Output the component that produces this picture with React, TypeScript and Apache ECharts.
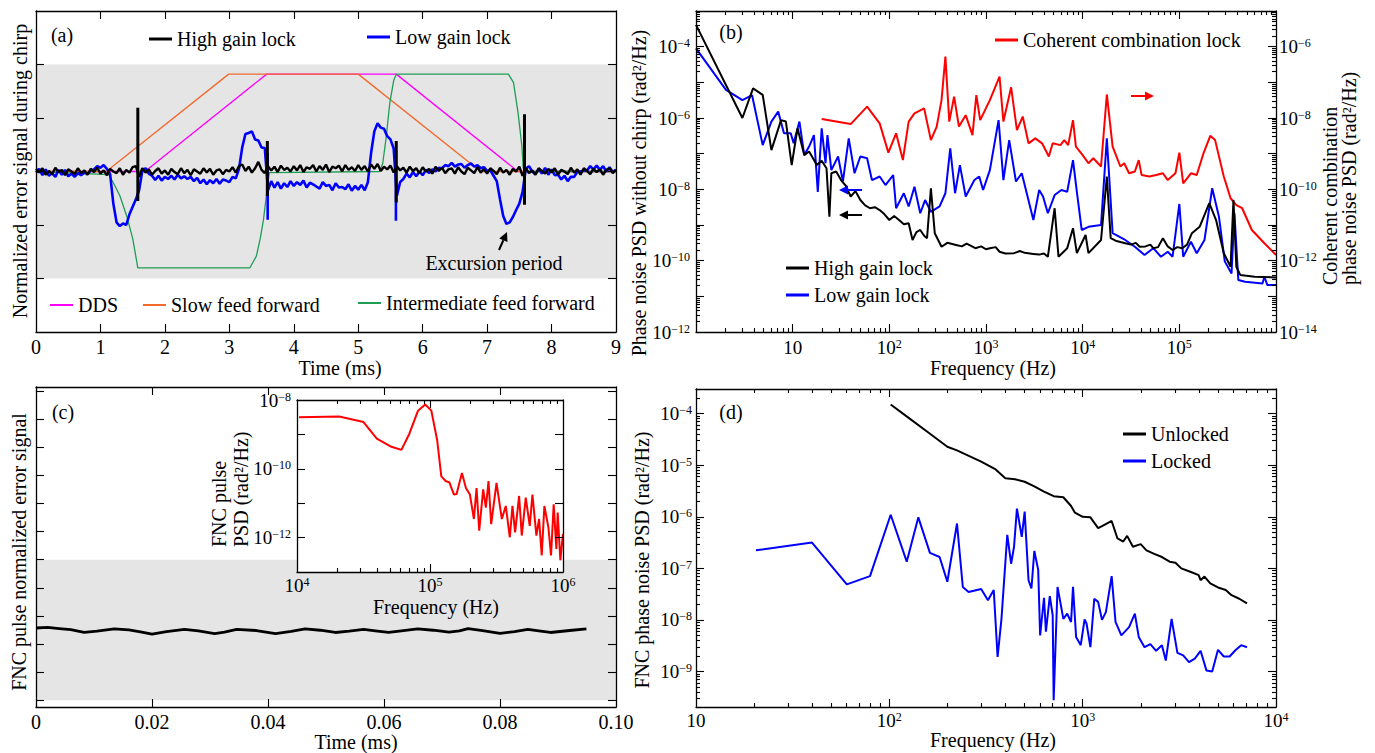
import React, { useEffect, useRef } from 'react';
import * as echarts from 'echarts';

const FONT = "'Liberation Serif', 'Times New Roman', serif";

// ---------- Panel (a): error signal during chirp (time in ms, sampled every 0.05 ms) ----------
const A_STEP = 0.05;
const aHighGain = [
  0.05, -0.02, 0.06, -0.06, 0.01, -0.05, 0.07, -0.01, 0.03, -0.07, 0.04, 0.0, -0.05, 0.06, -0.03, 0.02, -0.06, 0.05, -0.01, 0.07,
  -0.04, 0.02, -0.07, 0.05, 0.0, -0.03, 0.06, -0.06, 0.03, -0.02, 0.08, 0.1, -0.1, 0.06, -0.02, 0.04, -0.06, 0.01, 0.06, -0.04,
  0.02, -0.06, 0.05, -0.01, -0.05, 0.06, -0.03, 0.03, -0.07, 0.04, 0.0, -0.04, 0.06, -0.02, 0.05, -0.06, 0.02, 0.04, -0.05, 0.03,
  0.0, 0.08, -0.02, 0.1, 0.13, 0.01, 0.09, -0.02, 0.06, 0.18, 0.03, -0.03, 0.1, 0.02, 0.09, -0.01, 0.11, 0.03, 0.07, 0.0,
  0.1, 0.02, 0.12, -0.01, 0.08, 0.05, 0.12, 0.0, 0.1, 0.03, 0.13, -0.01, 0.09, 0.06, 0.11, 0.0, 0.12, 0.03, 0.08, 0.01,
  0.12, 0.03, 0.1, 0.0, 0.13, 0.05, 0.14, 0.01, 0.09, 0.04, 0.11, -0.02, 0.1, 0.02, 0.07, -0.02, 0.09, 0.01, 0.06, -0.03,
  0.08, 0.0, 0.05, -0.04, 0.09, 0.01, 0.07, -0.03, 0.04, 0.06, -0.04, 0.08, 0.0, -0.05, 0.07, 0.02, -0.03, 0.08, -0.02, 0.04,
  -0.04, 0.06, 0.01, -0.05, 0.07, -0.02, 0.03, -0.06, 0.05, 0.0, 0.09, -0.08, 0.06, -0.03, 0.02, -0.06, 0.06, 0.01, -0.04, 0.05,
  -0.02, 0.06, -0.06, 0.03, 0.0, -0.05, 0.07, -0.02, 0.04, -0.06, 0.06, 0.01, -0.05, 0.05, -0.01, 0.04, -0.06, 0.03, 0.06, -0.03,
  0.03,
];
const aLowGain = [
  -0.02, 0.05, -0.07, 0.04, -0.08, -0.03, -0.1, 0.03, -0.06, 0.03, -0.09, -0.04, -0.1, -0.03, -0.07, -0.02, -0.05, 0.02, 0.04, 0.1,
  0.07, 0.12, 0.05, -0.05, -0.6, -0.95, -1.02, -0.97, -1.0, -0.8, -0.66, -0.52, -0.35, 0.02, 0.06, -0.04, -0.08, -0.16, -0.08, -0.17,
  -0.1, -0.14, -0.08, -0.15, -0.06, -0.13, -0.09, -0.14, -0.1, -0.18, -0.12, -0.22, -0.15, -0.24, -0.16, -0.22, -0.14, -0.23, -0.15, -0.17,
  -0.2, -0.1, -0.13, 0.05, 0.45, 0.7, 0.72, 0.75, 0.6, 0.58, 0.45, 0.44, -0.35, -0.18, -0.3, -0.2, -0.32, -0.22, -0.29, -0.18,
  -0.27, -0.2, -0.25, -0.17, -0.3, -0.21, -0.24, -0.28, -0.32, -0.2, -0.27, -0.25, -0.35, -0.22, -0.3, -0.29, -0.33, -0.24, -0.36, -0.27,
  -0.34, -0.25, -0.35, -0.2, 0.35, 0.75, 0.9, 0.82, 0.8, 0.66, 0.6, 0.43, -0.45, -0.2, -0.14, -0.04, -0.11, -0.01, -0.09, 0.0,
  -0.07, 0.03, -0.03, 0.04, 0.0, 0.07, 0.06, 0.12, 0.1, 0.16, 0.09, 0.13, 0.14, 0.07, 0.12, 0.15, 0.09, 0.12, 0.06, 0.08,
  0.01, 0.02, -0.08, -0.18, -0.52, -0.83, -0.98, -0.95, -0.85, -0.72, -0.6, -0.38, 0.05, 0.1, 0.0, -0.05, 0.05, -0.04, 0.07, -0.06,
  0.04, -0.07, -0.06, -0.15, -0.08, -0.18, -0.1, -0.1, -0.01, 0.0, 0.02, 0.02, 0.1, 0.04, 0.11, 0.03, 0.1, 0.0, 0.08, -0.01,
  0.03,
];
// [time, low, high] of the vertical spikes
const aHighSpikes = [[1.58, -0.55, 1.19], [3.59, -0.46, 0.57], [5.59, -0.58, 0.57], [7.58, -0.62, 1.07]];
const aLowSpikes = [[3.595, -0.9, 0.35], [5.585, -0.92, 0.4]];
const aDDS = [[0, 0], [1.69, 0], [3.58, 1.82], [5.59, 1.82], [7.48, 0], [9, 0]];
const aSlowFF = [[0, 0], [1.09, 0], [2.99, 1.82], [5.0, 1.82], [6.9, 0], [9, 0]];
const aInterFF = [
  [0, 0], [1.13, -0.06], [1.2, -0.21], [1.3, -0.45], [1.41, -0.84], [1.5, -1.25], [1.58, -1.8], [3.32, -1.8],
  [3.42, -1.58], [3.48, -1.25], [3.53, -0.9], [3.58, -0.4], [3.62, -0.02], [5.33, 0], [5.38, 0.15], [5.43, 0.6],
  [5.49, 1.28], [5.55, 1.7], [5.59, 1.82], [7.33, 1.82], [7.41, 1.66], [7.48, 1.1], [7.54, 0.47], [7.56, 0.07], [7.58, 0], [9, 0],
];

// ---------- Panel (b): [log10 f (Hz), log10 PSD] ----------
const bHighGain = [
  [0, -3.39], [0.48, -6.0], [0.59, -5.17], [0.69, -5.35], [0.78, -6.9], [0.88, -6.06], [0.93, -6.1], [0.99, -7.32], [1.05, -6.29],
  [1.12, -7.04], [1.17, -6.94], [1.25, -7.32], [1.3, -7.2], [1.35, -7.41], [1.38, -8.77], [1.4, -7.55], [1.45, -7.5], [1.5, -7.74],
  [1.55, -7.9], [1.6, -8.2], [1.65, -8.05], [1.7, -8.3], [1.75, -8.45], [1.8, -8.53], [1.85, -8.5], [1.9, -8.58], [1.95, -8.7],
  [2.0, -8.86], [2.05, -8.75], [2.1, -8.86], [2.15, -8.98], [2.2, -8.95], [2.24, -9.42], [2.28, -9.2], [2.32, -9.14], [2.36, -9.3],
  [2.39, -9.37], [2.43, -7.97], [2.47, -9.23], [2.54, -9.61], [2.6, -9.5], [2.69, -9.56], [2.75, -9.6], [2.8, -9.52], [2.89, -9.65],
  [2.95, -9.6], [3.0, -9.68], [3.04, -9.65], [3.1, -9.62], [3.14, -9.75], [3.2, -9.8], [3.29, -9.79], [3.35, -9.73], [3.4, -9.78],
  [3.49, -9.81], [3.55, -9.83], [3.6, -9.8], [3.64, -9.89], [3.71, -8.53], [3.75, -9.89], [3.84, -9.65], [3.9, -9.09], [3.94, -9.79],
  [4.03, -9.28], [4.06, -9.79], [4.19, -9.42], [4.25, -7.64], [4.29, -9.37], [4.35, -9.45], [4.44, -9.51], [4.5, -9.55], [4.55, -9.5],
  [4.59, -9.61], [4.65, -9.6], [4.7, -9.55], [4.73, -9.65], [4.78, -9.62], [4.83, -9.37], [4.88, -9.6], [4.93, -9.7], [4.98, -9.62],
  [5.03, -9.65], [5.08, -9.55], [5.13, -9.23], [5.21, -9.05], [5.31, -8.39], [5.38, -8.86], [5.46, -9.79], [5.53, -10.17], [5.56, -8.3],
  [5.59, -10.17], [5.63, -10.4], [5.78, -10.45], [6.0, -10.47],
];
const bLowGain = [
  [0, -4.05], [0.31, -5.21], [0.48, -5.5], [0.58, -5.36], [0.69, -6.76], [0.78, -6.1], [0.85, -5.82], [0.91, -6.43], [0.98, -6.43],
  [1.01, -6.71], [1.07, -6.1], [1.12, -7.04], [1.17, -6.8], [1.22, -6.48], [1.26, -8.07], [1.3, -6.29], [1.34, -7.27], [1.36, -6.48],
  [1.4, -7.46], [1.47, -7.08], [1.52, -7.78], [1.58, -6.57], [1.64, -7.55], [1.7, -7.08], [1.77, -7.13], [1.82, -7.74], [1.9, -7.64],
  [1.96, -7.88], [2.04, -7.6], [2.07, -8.53], [2.15, -8.11], [2.2, -8.48], [2.26, -7.93], [2.32, -8.67], [2.37, -8.3], [2.43, -8.63],
  [2.52, -8.48], [2.58, -8.11], [2.63, -6.85], [2.68, -8.11], [2.73, -7.32], [2.79, -8.2], [2.88, -7.74], [2.93, -7.64], [2.97, -8.02],
  [3.04, -7.46], [3.13, -6.06], [3.18, -7.74], [3.24, -6.62], [3.31, -7.78], [3.37, -7.55], [3.43, -8.2], [3.49, -8.86], [3.55, -8.02],
  [3.59, -8.2], [3.64, -8.67], [3.71, -8.16], [3.78, -8.02], [3.84, -8.07], [3.9, -7.18], [3.94, -8.07], [3.99, -9.14], [4.06, -9.05],
  [4.19, -9.0], [4.25, -6.57], [4.31, -9.23], [4.44, -9.42], [4.54, -9.61], [4.64, -9.84], [4.73, -9.65], [4.81, -9.89], [4.88, -9.75],
  [4.93, -9.89], [5.0, -8.41], [5.04, -9.89], [5.12, -9.47], [5.18, -9.79], [5.26, -9.42], [5.34, -7.97], [5.41, -8.77], [5.47, -10.02],
  [5.54, -10.36], [5.57, -8.67], [5.61, -10.54], [5.68, -10.59], [5.86, -10.64], [5.88, -10.45], [5.91, -10.68], [6.0, -10.68],
];
// right-hand axis
const bCoherent = [
  [1.3, -8.03], [1.6, -8.17], [1.77, -7.68], [1.9, -8.15], [1.99, -8.97], [2.07, -8.43], [2.14, -9.18], [2.2, -8.1], [2.26, -7.87],
  [2.36, -7.73], [2.43, -8.62], [2.49, -8.24], [2.54, -7.5], [2.58, -6.28], [2.62, -8.1], [2.67, -7.4], [2.72, -8.24], [2.79, -7.92],
  [2.86, -8.48], [2.9, -7.36], [2.94, -8.06], [3.04, -7.5], [3.14, -6.84], [3.18, -8.1], [3.26, -7.14], [3.32, -8.34], [3.38, -7.96],
  [3.44, -8.71], [3.51, -8.57], [3.58, -8.71], [3.65, -9.08], [3.69, -8.71], [3.77, -8.76], [3.81, -8.62], [3.85, -8.76], [3.9, -8.06],
  [3.93, -8.8], [4.0, -9.04], [4.06, -9.27], [4.11, -9.13], [4.19, -9.36], [4.25, -7.34], [4.31, -8.8], [4.39, -9.36], [4.43, -9.27],
  [4.48, -9.55], [4.54, -9.5], [4.58, -9.18], [4.61, -9.6], [4.69, -9.64], [4.76, -9.6], [4.83, -9.55], [4.88, -9.74], [4.96, -9.55],
  [5.0, -8.97], [5.04, -9.83], [5.12, -9.55], [5.18, -9.6], [5.25, -8.99], [5.32, -8.5], [5.37, -8.62], [5.46, -9.64], [5.53, -10.25],
  [5.59, -10.44], [5.65, -10.53], [5.75, -11.14], [5.88, -11.51], [6.0, -11.84],
];

// ---------- Panel (c): FNC pulse error signal [time ms, value] ----------
const cError = [
  [0, 2.57], [0.002, 2.59], [0.004, 2.55], [0.006, 2.51], [0.0083, 2.41], [0.0105, 2.46], [0.0135, 2.54], [0.016, 2.5], [0.018, 2.43],
  [0.02, 2.35], [0.0225, 2.44], [0.0256, 2.52], [0.028, 2.47], [0.0308, 2.37], [0.0325, 2.42], [0.0346, 2.52], [0.038, 2.48],
  [0.0413, 2.37], [0.044, 2.45], [0.0464, 2.54], [0.049, 2.49], [0.0516, 2.41], [0.054, 2.46], [0.0565, 2.52], [0.0585, 2.47],
  [0.0608, 2.41], [0.063, 2.47], [0.0658, 2.54], [0.0685, 2.49], [0.0712, 2.42], [0.073, 2.47], [0.0745, 2.55], [0.077, 2.48],
  [0.08, 2.38], [0.0825, 2.44], [0.0848, 2.52], [0.087, 2.46], [0.0887, 2.41], [0.092, 2.48], [0.0949, 2.54],
];
// inset: [log10 f, log10 PSD]
const insetPsd = [
  [4.015, -8.5], [4.317, -8.48], [4.5, -8.64], [4.6, -9.12], [4.71, -9.36], [4.785, -9.45], [4.845, -8.98], [4.91, -8.31],
  [4.964, -8.13], [5.01, -8.31], [5.054, -9.17], [5.085, -10.22], [5.12, -10.36], [5.145, -10.39], [5.18, -10.75], [5.2, -10.73],
  [5.24, -10.12], [5.27, -10.56], [5.3, -10.75], [5.33, -11.46], [5.35, -10.56], [5.37, -11.8], [5.4, -10.6], [5.42, -11.13],
  [5.44, -10.36], [5.46, -11.61], [5.5, -10.41], [5.54, -11.46], [5.57, -11.08], [5.6, -11.99], [5.62, -11.08], [5.64, -11.85],
  [5.67, -10.79], [5.69, -11.94], [5.72, -10.84], [5.75, -11.66], [5.77, -10.75], [5.8, -11.94], [5.82, -11.46], [5.84, -12.52],
  [5.86, -11.08], [5.89, -11.7], [5.91, -12.52], [5.93, -11.03], [5.95, -12.33], [5.96, -11.27], [5.98, -12.66], [6.0, -11.89],
];

// ---------- Panel (d): [log10 f, log10 PSD] ----------
const dUnlocked = [
  [2.007, -3.82], [2.1, -4.08], [2.2, -4.36], [2.3, -4.64], [2.35, -4.71], [2.475, -4.93], [2.55, -5.08], [2.6, -5.25], [2.65, -5.27],
  [2.7, -5.32], [2.75, -5.41], [2.8, -5.51], [2.85, -5.6], [2.9, -5.62], [2.94, -5.79], [2.96, -5.92], [3.0, -6.0], [3.04, -6.01],
  [3.08, -6.22], [3.11, -6.16], [3.15, -6.08], [3.18, -6.42], [3.21, -6.48], [3.23, -6.37], [3.26, -6.58], [3.3, -6.53], [3.33, -6.65],
  [3.37, -6.72], [3.41, -6.78], [3.45, -6.87], [3.48, -6.89], [3.51, -7.0], [3.56, -7.07], [3.6, -7.13], [3.61, -7.23], [3.63, -7.16],
  [3.66, -7.29], [3.7, -7.37], [3.74, -7.42], [3.77, -7.52], [3.81, -7.59], [3.85, -7.68],
];
const dLocked = [
  [1.31, -6.65], [1.6, -6.5], [1.78, -7.31], [1.9, -7.15], [2.007, -5.96], [2.09, -6.87], [2.15, -6.01], [2.21, -6.7], [2.26, -6.78],
  [2.3, -7.26], [2.35, -6.13], [2.38, -7.36], [2.41, -7.46], [2.475, -7.4], [2.51, -7.62], [2.54, -7.42], [2.56, -8.72], [2.58, -7.98],
  [2.61, -6.35], [2.63, -6.91], [2.645, -6.58], [2.66, -5.84], [2.685, -6.39], [2.7, -5.9], [2.72, -7.23], [2.735, -7.39], [2.75, -6.66],
  [2.77, -7.03], [2.78, -8.3], [2.8, -7.57], [2.81, -8.23], [2.83, -7.54], [2.845, -7.91], [2.85, -9.56], [2.87, -7.36], [2.9, -7.98],
  [2.92, -7.88], [2.94, -8.04], [2.95, -7.36], [2.966, -8.33], [2.99, -8.49], [3.01, -7.99], [3.02, -8.07], [3.04, -8.53], [3.06, -7.59],
  [3.08, -7.65], [3.1, -8.0], [3.12, -7.85], [3.15, -7.15], [3.17, -8.04], [3.2, -8.3], [3.24, -8.14], [3.27, -7.88], [3.29, -8.33],
  [3.32, -8.53], [3.35, -8.47], [3.38, -8.6], [3.41, -8.49], [3.43, -8.79], [3.46, -7.98], [3.49, -8.64], [3.52, -8.69], [3.55, -8.82],
  [3.58, -8.75], [3.61, -8.6], [3.64, -8.98], [3.67, -9.0], [3.7, -8.58], [3.73, -8.71], [3.76, -8.71], [3.79, -8.59], [3.82, -8.49],
  [3.85, -8.53],
];

// ---------- helpers ----------
const POW_RICH = {
  b: { fontFamily: FONT, fontSize: 19, color: '#000', lineHeight: 19 },
  s: { fontFamily: FONT, fontSize: 12, color: '#000', lineHeight: 13, verticalAlign: 'top' },
};
const powFmt = (v: number) => {
  const n = Math.round(v);
  if (n === 1) return '{b|10}';
  return `{b|10}{s|${n < 0 ? '\u2212' : ''}${Math.abs(n)}}`;
};
const ints = (a: number, b: number) => {
  const out: number[] = [];
  for (let i = a; i <= b; i++) out.push(i);
  return out;
};
const logMinors = (lo: number, hi: number) => {
  const out: number[] = [];
  for (let n = Math.floor(lo); n < hi; n++) {
    for (let m = 2; m <= 9; m++) {
      const v = n + Math.log10(m);
      if (v > lo && v < hi) out.push(v);
    }
  }
  return out;
};

type AxSpec = {
  grid: number; pos: string; min: number; max: number; ticks: number[]; len?: number;
  labels?: number[]; fmt?: (v: number) => string; line?: boolean; margin?: number; pow?: boolean;
};
function mkAxis(o: AxSpec) {
  return {
    type: 'value', gridIndex: o.grid, position: o.pos, min: o.min, max: o.max, offset: 0,
    axisLine: { show: !!o.line, onZero: false, lineStyle: { color: '#000', width: 1.3 } },
    axisTick: { show: o.ticks.length > 0, inside: true, length: o.len ?? 8, customValues: o.ticks, lineStyle: { color: '#000', width: 1.1 } },
    axisLabel: o.labels
      ? { show: true, customValues: o.labels, formatter: o.fmt, margin: o.margin ?? 5, color: '#000', fontFamily: FONT, fontSize: 20, rich: o.pow ? POW_RICH : undefined, hideOverlap: false }
      : { show: false },
    splitLine: { show: false }, splitArea: { show: false }, minorTick: { show: false }, minorSplitLine: { show: false },
    axisPointer: { show: false }, silent: true, z: 10,
  };
}

function buildOption() {
  const xAxes: any[] = [];
  const yAxes: any[] = [];
  const addX = (s: AxSpec) => { xAxes.push(mkAxis(s)); return xAxes.length - 1; };
  const addY = (s: AxSpec) => { yAxes.push(mkAxis(s)); return yAxes.length - 1; };

  // (a)
  const xA = addX({ grid: 0, pos: 'bottom', min: 0, max: 9, ticks: ints(1, 8), labels: ints(0, 9), fmt: (v) => String(v), line: true, margin: 5 });
  addX({ grid: 0, pos: 'top', min: 0, max: 9, ticks: ints(1, 8), line: true });
  const yA = addY({ grid: 0, pos: 'left', min: -3, max: 3, ticks: ints(-2, 2), line: true });
  addY({ grid: 0, pos: 'right', min: -3, max: 3, ticks: ints(-2, 2), line: true });

  // (b)
  const xB = addX({ grid: 1, pos: 'bottom', min: 0, max: 6, ticks: ints(1, 5), labels: ints(1, 5), fmt: powFmt, pow: true, line: true, margin: 6 });
  addX({ grid: 1, pos: 'bottom', min: 0, max: 6, ticks: logMinors(0, 6), len: 4 });
  addX({ grid: 1, pos: 'top', min: 0, max: 6, ticks: ints(1, 5), line: true });
  addX({ grid: 1, pos: 'top', min: 0, max: 6, ticks: logMinors(0, 6), len: 4 });
  const yBL = addY({ grid: 1, pos: 'left', min: -12, max: -3, ticks: ints(-11, -4), labels: [-12, -10, -8, -6, -4], fmt: powFmt, pow: true, line: true, margin: 6 });
  addY({ grid: 1, pos: 'left', min: -12, max: -3, ticks: logMinors(-12, -3), len: 4 });
  const yBR = addY({ grid: 1, pos: 'right', min: -14, max: -5, ticks: ints(-13, -6), labels: [-14, -12, -10, -8, -6], fmt: powFmt, pow: true, line: true, margin: 3 });
  addY({ grid: 1, pos: 'right', min: -14, max: -5, ticks: logMinors(-14, -5), len: 4 });

  // (c)
  const xC = addX({ grid: 2, pos: 'bottom', min: 0, max: 0.1, ticks: [0.02, 0.04, 0.06, 0.08], labels: [0, 0.02, 0.04, 0.06, 0.08, 0.1], fmt: (v) => (v === 0 ? '0' : v.toFixed(2)), line: true, margin: 5 });
  addX({ grid: 2, pos: 'top', min: 0, max: 0.1, ticks: [0.02, 0.04, 0.06, 0.08], line: true });
  const yC = addY({ grid: 2, pos: 'left', min: -0.24, max: 11.14, ticks: ints(0, 11), line: true });
  addY({ grid: 2, pos: 'right', min: -0.24, max: 11.14, ticks: ints(0, 11), line: true });

  // (d)
  const xD = addX({ grid: 3, pos: 'bottom', min: 1, max: 4, ticks: [2, 3], labels: [1, 2, 3, 4], fmt: powFmt, pow: true, line: true, margin: 4 });
  addX({ grid: 3, pos: 'bottom', min: 1, max: 4, ticks: logMinors(1, 4), len: 4 });
  addX({ grid: 3, pos: 'top', min: 1, max: 4, ticks: [2, 3], line: true });
  addX({ grid: 3, pos: 'top', min: 1, max: 4, ticks: logMinors(1, 4), len: 4 });
  const yD = addY({ grid: 3, pos: 'left', min: -9.69, max: -3.52, ticks: ints(-9, -4), labels: ints(-9, -4), fmt: powFmt, pow: true, line: true, margin: 4 });
  addY({ grid: 3, pos: 'left', min: -9.69, max: -3.52, ticks: logMinors(-9.69, -3.52), len: 4 });
  addY({ grid: 3, pos: 'right', min: -9.69, max: -3.52, ticks: ints(-9, -4), line: true });
  addY({ grid: 3, pos: 'right', min: -9.69, max: -3.52, ticks: logMinors(-9.69, -3.52), len: 4 });

  // inset of (c)
  const xI = addX({ grid: 4, pos: 'bottom', min: 4, max: 6, ticks: [5], labels: [4, 5, 6], fmt: powFmt, pow: true, line: true, margin: 4 });
  addX({ grid: 4, pos: 'bottom', min: 4, max: 6, ticks: logMinors(4, 6), len: 4 });
  addX({ grid: 4, pos: 'top', min: 4, max: 6, ticks: [5], line: true });
  addX({ grid: 4, pos: 'top', min: 4, max: 6, ticks: logMinors(4, 6), len: 4 });
  const yI = addY({ grid: 4, pos: 'left', min: -13, max: -8, ticks: ints(-12, -9), labels: [-12, -10, -8], fmt: powFmt, pow: true, line: true, margin: 6 });
  addY({ grid: 4, pos: 'right', min: -13, max: -8, ticks: ints(-12, -9), line: true });

  const line = (name: string, xi: number, yi: number, data: any[], color: string, width: number, z = 3) => ({
    type: 'line', name, xAxisIndex: xi, yAxisIndex: yi, data, color, symbol: 'none', showSymbol: false,
    lineStyle: { color, width }, itemStyle: { color }, z, silent: true, animation: false,
  });
  const band = (xi: number, yi: number, lo: number, hi: number, color: string, z: number) => ({
    type: 'line', name: 'band', xAxisIndex: xi, yAxisIndex: yi, data: [[0, lo]], symbol: 'none', showSymbol: false,
    lineStyle: { opacity: 0 }, z, silent: true,
    markArea: { silent: true, itemStyle: { color }, data: [[{ yAxis: lo }, { yAxis: hi }]] },
  });
  const onGrid = (vals: number[]) => vals.map((v, i) => [i * A_STEP, v]);
  const spike = (s: number[]) => [[s[0], s[1]], [s[0], s[2]]];

  const series: any[] = [
    band(xA, yA, -2, 2, '#e5e5e5', 1),
    line('DDS', xA, yA, aDDS, '#ff00ff', 1.3, 2),
    line('Slow feed forward', xA, yA, aSlowFF, '#f26a2e', 1.3, 2),
    line('Intermediate feed forward', xA, yA, aInterFF, '#1f9d55', 1.3, 2),
    line('Low gain lock', xA, yA, onGrid(aLowGain), '#0000ff', 2.6, 3),
    ...aLowSpikes.map((s) => line('Low gain lock', xA, yA, spike(s), '#0000ff', 2.6, 3)),
    line('High gain lock', xA, yA, onGrid(aHighGain), '#000000', 2.4, 4),
    ...aHighSpikes.map((s) => line('High gain lock', xA, yA, spike(s), '#000000', 3, 4)),

    line('Coherent combination lock', xB, yBR, bCoherent, '#ff0000', 2, 2),
    line('Low gain lock', xB, yBL, bLowGain, '#0000ff', 2, 3),
    line('High gain lock', xB, yBL, bHighGain, '#000000', 2, 4),

    band(xC, yC, 0, 5, '#e5e5e5', 1),
    line('FNC pulse normalized error signal', xC, yC, cError, '#000000', 2.8, 3),
    band(xI, yI, -13, -8, '#ffffff', 4),
    line('FNC pulse PSD', xI, yI, insetPsd, '#ff0000', 2, 5),

    line('Unlocked', xD, yD, dUnlocked, '#000000', 2, 3),
    line('Locked', xD, yD, dLocked, '#0000ff', 2, 3),
  ];

  const legend = (name: string, left: number, cy: number, h = 3) => ({
    data: [name], left, top: cy - 10, icon: 'rect', itemWidth: 23, itemHeight: h, itemGap: 0, padding: 0,
    selectedMode: false, orient: 'horizontal', z: 20,
    itemStyle: { borderWidth: 0 },
    textStyle: { fontFamily: FONT, fontSize: 20, color: '#000' },
  });

  const txt = (text: string, x: number, y: number, o: { rot?: number; align?: string; size?: number } = {}) => ({
    type: 'text', x, y, rotation: o.rot ?? 0, z: 30, silent: true,
    style: {
      text, fill: '#000', fontFamily: FONT, fontSize: o.size ?? 20,
      textAlign: o.align ?? 'center', align: o.align ?? 'center', textVerticalAlign: 'middle', verticalAlign: 'middle',
    },
  });
  const arrow = (x1: number, y1: number, x2: number, y2: number, color: string) => {
    const dx = x2 - x1, dy = y2 - y1;
    const L = Math.hypot(dx, dy);
    const ux = dx / L, uy = dy / L;
    const hl = 9, hw = 4.5;
    const bx = x2 - ux * hl, by = y2 - uy * hl;
    return [
      { type: 'line', z: 30, silent: true, shape: { x1, y1, x2: bx, y2: by }, style: { stroke: color, lineWidth: 2 } },
      { type: 'polygon', z: 30, silent: true, shape: { points: [[x2, y2], [bx - uy * hw, by + ux * hw], [bx + uy * hw, by - ux * hw]] }, style: { fill: color } },
    ];
  };
  const R = Math.PI / 2;

  return {
    animation: false,
    backgroundColor: '#ffffff',
    textStyle: { fontFamily: FONT },
    grid: [
      { left: 36, top: 11, width: 580, height: 321, containLabel: false, outerBoundsMode: 'none' },
      { left: 696, top: 11, width: 580, height: 321, containLabel: false, outerBoundsMode: 'none' },
      { left: 36, top: 387, width: 580, height: 320, containLabel: false, outerBoundsMode: 'none' },
      { left: 696, top: 389, width: 580, height: 318, containLabel: false, outerBoundsMode: 'none' },
      { left: 297, top: 400, width: 266, height: 172, containLabel: false, outerBoundsMode: 'none' },
    ],
    xAxis: xAxes,
    yAxis: yAxes,
    legend: [
      legend('High gain lock', 149, 39),
      legend('Low gain lock', 367, 37),
      legend('DDS', 50, 305, 2),
      legend('Slow feed forward', 143, 305, 2),
      legend('Intermediate feed forward', 358, 303, 2),
      legend('Coherent combination lock', 995, 40),
      legend('High gain lock', 786, 268),
      legend('Low gain lock', 786, 295),
      legend('Unlocked', 1123, 434),
      legend('Locked', 1123, 461),
    ],
    series,
    graphic: {
      elements: [
        txt('(a)', 62, 35), txt('(b)', 731, 32), txt('(c)', 63, 412), txt('(d)', 731, 412),
        txt('Normalized error signal during chirp', 20, 171, { rot: R }),
        txt('Time (ms)', 340, 368),
        txt('Excursion period', 494, 263),
        ...arrow(499, 250, 507, 232, '#000000'),
        txt('Phase noise PSD without chirp (rad\u00b2/Hz)', 639, 193, { rot: R }),
        txt('Coherent combination', 1330, 285, { rot: R, align: 'left' }),
        txt('phase noise PSD (rad\u00b2/Hz)', 1349, 285, { rot: R, align: 'left' }),
        txt('Frequency (Hz)', 993, 368),
        ...arrow(1131, 96, 1154, 96, '#ff0000'),
        ...arrow(862, 190, 839, 190, '#0000ff'),
        ...arrow(862, 215, 839, 215, '#000000'),
        txt('FNC pulse normalized error signal', 19, 552, { rot: R }),
        txt('Time (ms)', 356, 742),
        txt('FNC pulse', 219, 547, { rot: R, align: 'left' }),
        txt('PSD (rad\u00b2/Hz)', 241, 547, { rot: R, align: 'left' }),
        txt('Frequency (Hz)', 436, 607),
        txt('FNC phase noise PSD (rad\u00b2/Hz)', 642, 560, { rot: R }),
        txt('Frequency (Hz)', 993, 740),
      ],
    },
  };
}

export default function App() {
  const ref = useRef<HTMLDivElement>(null);
  useEffect(() => {
    document.body.style.margin = '0';
    const chart = echarts.init(ref.current as HTMLDivElement, null, { renderer: 'svg' });
    chart.setOption(buildOption() as any);
    return () => chart.dispose();
  }, []);
  return <div ref={ref} style={{ width: 1375, height: 753 }} />;
}
